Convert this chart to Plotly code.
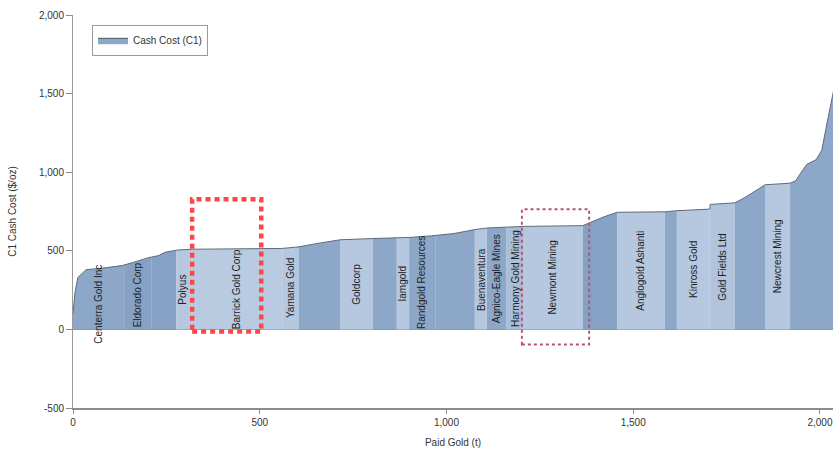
import numpy as np
import plotly.graph_objects as go

# ---------------- data ----------------
company_names = [
    "Centerra Gold Inc", "Eldorado Corp", "", "Polyus", "Barrick Gold Corp",
    "Yamana Gold", "", "Goldcorp", "", "Iamgold", "Randgold Resources", "",
    "Buenaventura", "Agnico-Eagle Mines", "Harmony Gold Mining", "Newmont Mining",
    "", "Anglogold Ashanti", "", "Kinross Gold", "Gold Fields Ltd", "",
    "Newcrest Mining", "",
]
company_paid_gold_t = [
    139, 72, 65, 37, 247, 45, 110, 88, 64, 33, 70, 106,
    32, 53, 44, 160, 92, 128, 32, 88, 67, 81, 67, 120,
]

# cost curve (cumulative paid gold t, C1 cash cost $/oz)
curve_cum_t = [0, 5, 13, 27, 35, 80, 130, 160, 200, 230, 245, 280, 320, 560,
               605, 650, 715, 803, 900, 960, 1020, 1076, 1108, 1205, 1365,
               1380, 1420, 1457, 1585, 1617, 1705, 1706, 1772, 1800, 1853,
               1920, 1935, 1950, 1965, 1990, 2005, 2018, 2030, 2040]
curve_cost = [100, 230, 330, 365, 380, 390, 405, 425, 455, 470, 490, 505, 510,
              515, 525, 545, 570, 578, 585, 595, 610, 635, 645, 655, 660,
              675, 715, 745, 748, 755, 765, 795, 805, 840, 920, 930, 945,
              1000, 1050, 1080, 1140, 1300, 1440, 1560]

x_ticks = [0, 500, 1000, 1500, 2000]
x_tick_text = ["0", "500", "1,000", "1,500", "2,000"]
y_ticks = [-500, 0, 500, 1000, 1500, 2000]
y_tick_text = ["-500", "0", "500", "1,000", "1,500", "2,000"]

# ---------------- style ----------------
LIGHT = "#b6c8df"
MED = "#8da7c9"
DARK = "#87a1c5"
band_colors = [MED, DARK, DARK, LIGHT, "#b9cbe0", LIGHT, MED, LIGHT, MED, LIGHT,
               MED, MED, LIGHT, MED, "#a9bed9", LIGHT, DARK, LIGHT, MED, LIGHT,
               "#b1c4dc", MED, LIGHT, MED]

FONT = "Liberation Sans, Arial, sans-serif"

fig = go.Figure()

cx = np.array(curve_cum_t, dtype=float)
cy = np.array(curve_cost, dtype=float)
edges = np.concatenate([[0], np.cumsum(company_paid_gold_t)]).astype(float)

for i, name in enumerate(company_names):
    x0, x1 = edges[i], edges[i + 1]
    inner = (cx > x0) & (cx < x1)
    xs = np.concatenate([[x0], cx[inner], [x1]])
    ys = np.concatenate([[np.interp(x0, cx, cy)], cy[inner], [np.interp(x1, cx, cy)]])
    fig.add_trace(go.Scatter(
        x=xs, y=ys, mode="lines", fill="tozeroy", fillcolor=band_colors[i],
        line=dict(width=0, color=band_colors[i]),
        name="Cash Cost (C1)", showlegend=False, hoverinfo="skip",
    ))
    if name:
        top = float(np.mean(ys))
        fig.add_annotation(
            x=(x0 + x1) / 2, y=top / 2, text=name, textangle=-90,
            showarrow=False, font=dict(family=FONT, size=10, color="#1e1e1e"),
        )

# outline of the cost curve
fig.add_trace(go.Scatter(
    x=cx, y=cy, mode="lines", line=dict(color="#5d6b7c", width=1),
    showlegend=False, hoverinfo="skip",
))

# legend-only entry
fig.add_trace(go.Scatter(
    x=[None], y=[None], mode="lines", fill="tozeroy", fillcolor=MED,
    line=dict(width=1, color="#4a5563"), name="Cash Cost (C1)", showlegend=True,
))

# highlight boxes
fig.add_shape(type="rect", xref="x", yref="y", x0=319, x1=504, y0=-13, y1=828,
              line=dict(color="#ff4646", width=4.5, dash="5px,4px"))
fig.add_shape(type="rect", xref="x", yref="y", x0=1202, x1=1382, y0=-96, y1=764,
              line=dict(color="#b5566a", width=2, dash="dot"))

fig.update_layout(
    width=833, height=451, autosize=False,
    margin=dict(l=73, r=0, t=15, b=43),
    paper_bgcolor="white", plot_bgcolor="white",
    font=dict(family=FONT, size=10, color="#333333"),
    legend=dict(x=0.025, y=0.975, xanchor="left", yanchor="top",
                bgcolor="white", bordercolor="#9a9a9a", borderwidth=1,
                font=dict(family=FONT, size=10, color="#333333"),
                itemwidth=30),
    xaxis=dict(range=[0, 2035], tickvals=x_ticks, ticktext=x_tick_text,
               showgrid=False, zeroline=False, showline=True,
               linecolor="#8c8c8c", linewidth=2, ticks="outside", ticklen=4,
               tickcolor="#8c8c8c",
               title=dict(text="Paid Gold (t)", standoff=12,
                          font=dict(family=FONT, size=10, color="#333333"))),
    yaxis=dict(range=[-500, 2000], tickvals=y_ticks, ticktext=y_tick_text,
               showgrid=False, zeroline=True, zerolinecolor="#8c8c8c",
               zerolinewidth=1, showline=True, linecolor="#9a9a9a",
               linewidth=1, ticks="outside", ticklen=6, tickcolor="#8c8c8c",
               title=dict(text="C1 Cash Cost ($/oz)", standoff=20,
                          font=dict(family=FONT, size=10, color="#333333"))),
)

fig.write_html("out.html")
